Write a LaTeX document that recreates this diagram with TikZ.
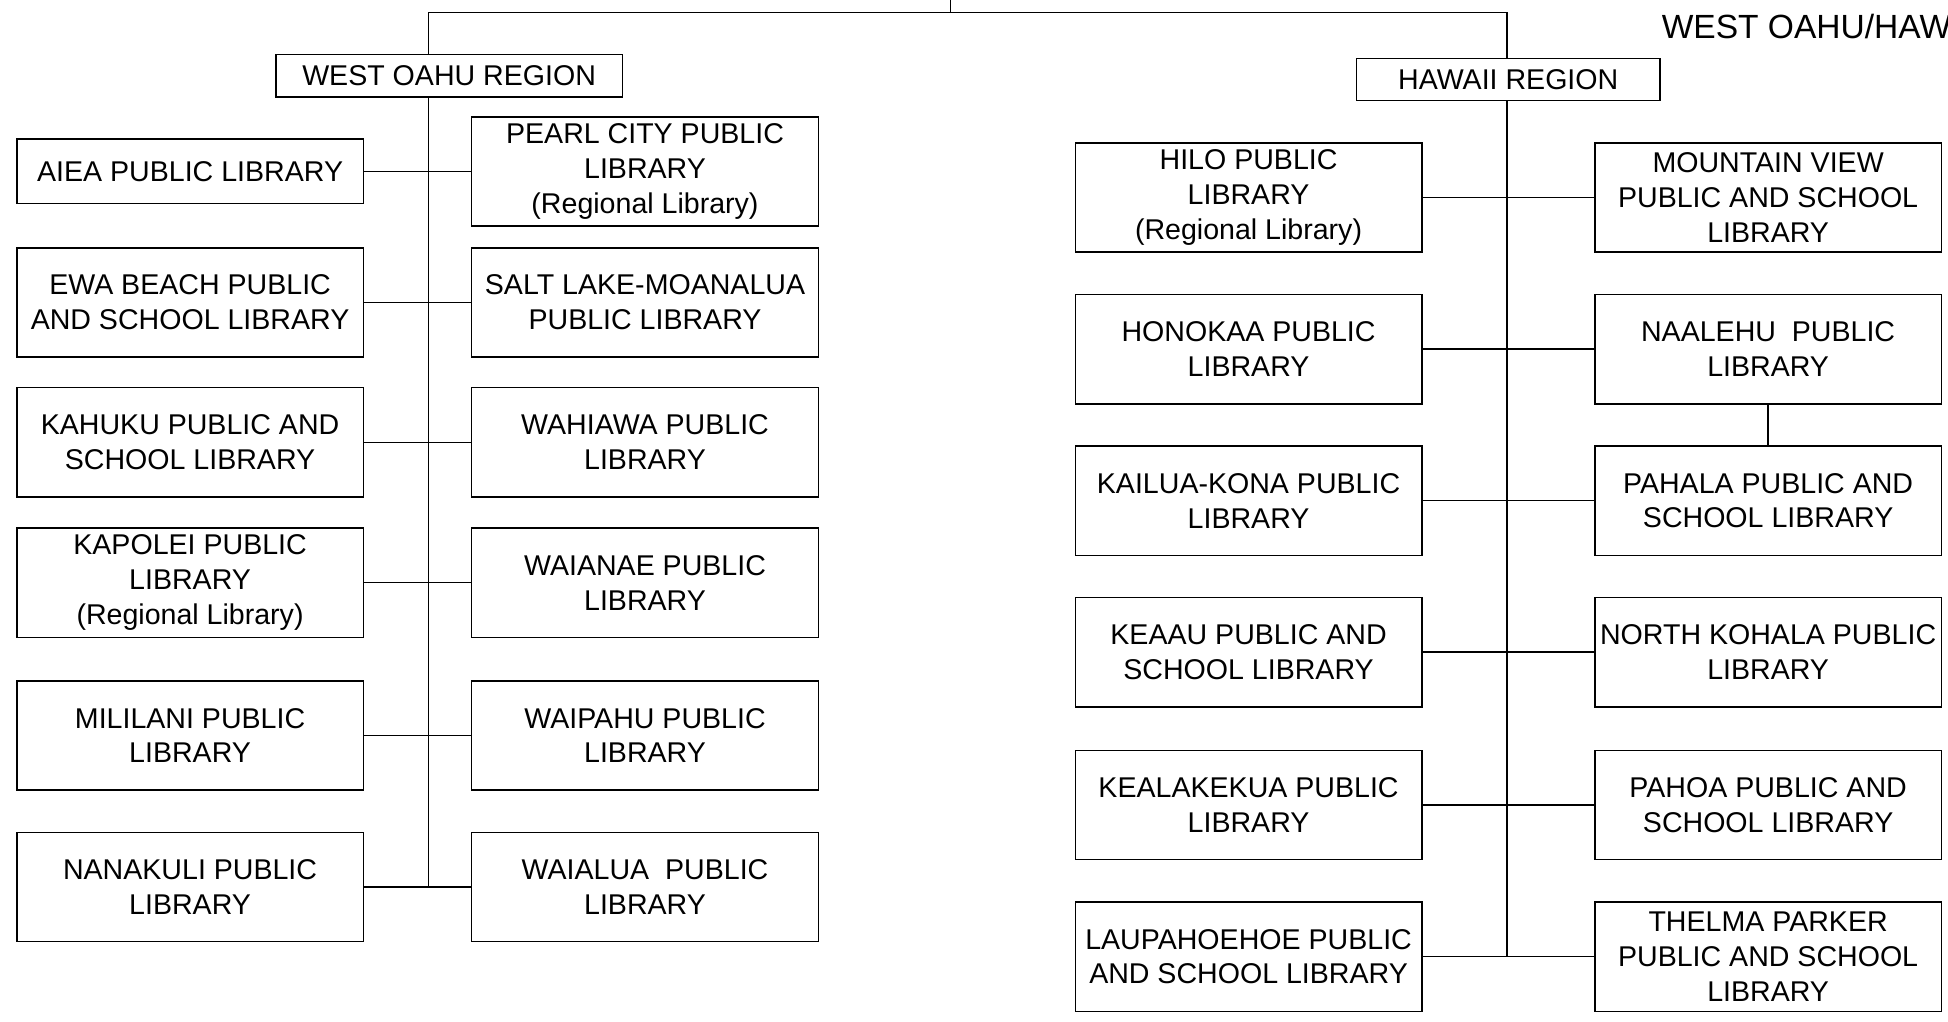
\documentclass[tikz,border=0pt]{standalone}
\usepackage{fontspec}
\setmainfont{Liberation Sans}
\usetikzlibrary{positioning}

\begin{document}
\begin{tikzpicture}[x=0.5pt, y=-0.5pt, line width=0.6pt,
        lib/.style={draw, fill=white, minimum width=139.5pt, minimum height=44pt,
            inner sep=1pt, align=center, font=\fontsize{11.5}{14}\selectfont},
        region/.style={lib, minimum height=17pt}]
        \useasboundingbox (0,0) rectangle (1568,822);

        % regions
        \node[region, minimum width=139.5pt] (west)   at (361.5,61) {WEST OAHU REGION};
        \node[region, minimum width=122pt]   (hawaii) at (1214,64)  {HAWAII REGION};
        \node[anchor=base west, inner sep=0pt, font=\fontsize{13.5}{15}\selectfont] (title) at (1337,31) {WEST OAHU/HAW};

        % west oahu
        \node[lib, minimum height=26pt] (aiea) at (153,138) {AIEA PUBLIC LIBRARY};
        \node[lib] (ewa)      at (153,243.5) {EWA BEACH PUBLIC\\AND SCHOOL LIBRARY};
        \node[lib] (kahuku)   at (153,356)   {KAHUKU PUBLIC AND\\SCHOOL LIBRARY};
        \node[lib] (kapolei)  at (153,469)   {KAPOLEI PUBLIC\\LIBRARY\\(Regional Library)};
        \node[lib] (mililani) at (153,592)   {MILILANI PUBLIC\\LIBRARY};
        \node[lib] (nanakuli) at (153,714)   {NANAKULI PUBLIC\\LIBRARY};

        \node[lib, right=43pt of aiea]     (pearl)    {PEARL CITY PUBLIC\\LIBRARY\\(Regional Library)};
        \node[lib, right=43pt of ewa]      (saltlake) {SALT LAKE-MOANALUA\\PUBLIC LIBRARY};
        \node[lib, right=43pt of kahuku]   (wahiawa)  {WAHIAWA PUBLIC\\LIBRARY};
        \node[lib, right=43pt of kapolei]  (waianae)  {WAIANAE PUBLIC\\LIBRARY};
        \node[lib, right=43pt of mililani] (waipahu)  {WAIPAHU PUBLIC\\LIBRARY};
        \node[lib, right=43pt of nanakuli] (waialua)  {WAIALUA\ \ PUBLIC\\LIBRARY};

        % hawaii
        \node[lib] (hilo)        at (1005,159) {HILO PUBLIC\\LIBRARY\\(Regional Library)};
        \node[lib] (honokaa)     at (1005,281) {HONOKAA PUBLIC\\LIBRARY};
        \node[lib] (kailua)      at (1005,403) {KAILUA-KONA PUBLIC\\LIBRARY};
        \node[lib] (keaau)       at (1005,525) {KEAAU PUBLIC AND\\SCHOOL LIBRARY};
        \node[lib] (kealakekua)  at (1005,648) {KEALAKEKUA PUBLIC\\LIBRARY};
        \node[lib] (laupahoehoe) at (1005,770) {LAUPAHOEHOE PUBLIC\\AND SCHOOL LIBRARY};

        \node[lib, right=69pt of hilo]        (mountain) {MOUNTAIN VIEW\\PUBLIC AND SCHOOL\\LIBRARY};
        \node[lib, right=69pt of honokaa]     (naalehu)  {NAALEHU\ \ PUBLIC\\LIBRARY};
        \node[lib, right=69pt of kailua]      (pahala)   {PAHALA PUBLIC AND\\SCHOOL LIBRARY};
        \node[lib, right=69pt of keaau]       (kohala)   {NORTH KOHALA PUBLIC\\LIBRARY};
        \node[lib, right=69pt of kealakekua]  (pahoa)    {PAHOA PUBLIC AND\\SCHOOL LIBRARY};
        \node[lib, right=69pt of laupahoehoe] (thelma)   {THELMA PARKER\\PUBLIC AND SCHOOL\\LIBRARY};

        % lines
        \coordinate (ctop) at (765,0);
        \coordinate (wtop) at (345,10);
        \coordinate (htop) at (1213,10);
        \draw (ctop) -- (ctop |- wtop);
        \draw (wtop) -- (htop);
        \draw (wtop) -- (wtop |- west.north);
        \draw (wtop |- west.south) -- (wtop |- nanakuli.east);
        \draw (htop) -- (htop |- hawaii.north);
        \draw (htop |- hawaii.south) -- (htop |- laupahoehoe.east);
        \foreach \a/\b in {aiea/pearl, ewa/saltlake, kahuku/wahiawa, kapolei/waianae,
                mililani/waipahu, nanakuli/waialua, hilo/mountain, honokaa/naalehu,
                kailua/pahala, keaau/kohala, kealakekua/pahoa, laupahoehoe/thelma}
            \draw (\a.east) -- (\b.west);
        \draw (naalehu.south) -- (pahala.north);
\end{tikzpicture}
\end{document}
